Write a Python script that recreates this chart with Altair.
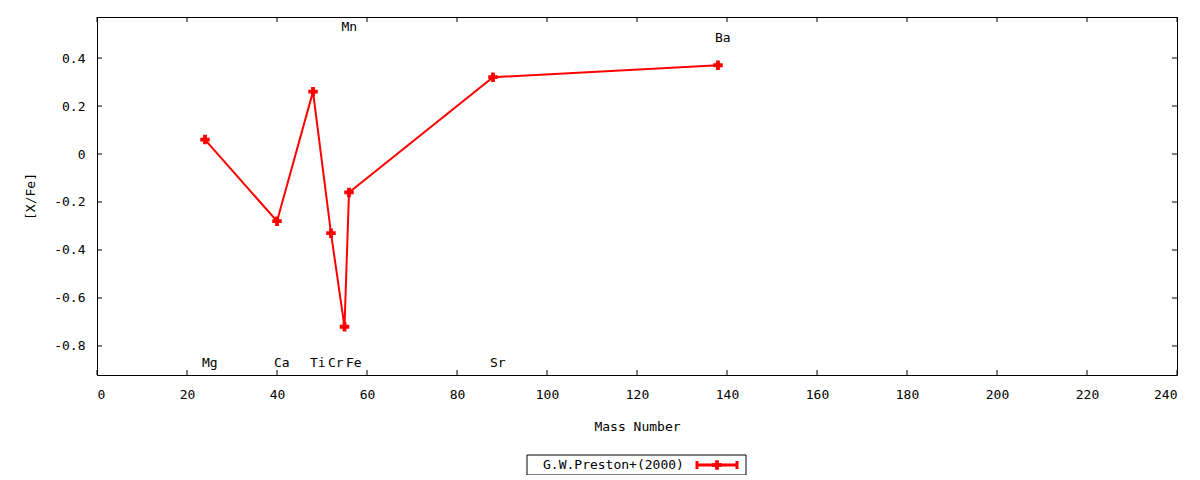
import altair as alt
import pandas as pd

elements = ["Mg", "Ca", "Ti", "Cr", "Mn", "Fe", "Sr", "Ba"]
mass = [24, 40, 48, 52, 55, 56, 88, 138]
xfe = [0.06, -0.28, 0.26, -0.33, -0.72, -0.16, 0.32, 0.37]
label_y = [-0.87, -0.87, -0.87, -0.87, 0.53, -0.87, -0.87, 0.485]
x_ticks = [0, 20, 40, 60, 80, 100, 120, 140, 160, 180, 200, 220, 240]
y_ticks = [-0.8, -0.6, -0.4, -0.2, 0, 0.2, 0.4]
legend_label = ["G.W.Preston+(2000)"]

FONT = "DejaVu Sans Mono"
W, H = 1080, 358
RED = "#ff0000"

df = pd.DataFrame({"el": elements, "mass": mass, "xfe": xfe, "ly": label_y})
xt = pd.DataFrame({"v": x_ticks})
yt = pd.DataFrame({"v": y_ticks})
leg = pd.DataFrame({"label": legend_label})

xscale = alt.Scale(domain=[0, 240], nice=False, zero=False)
yscale = alt.Scale(domain=[-0.921, 0.571], nice=False, zero=False)

xaxis = alt.Axis(values=x_ticks, grid=False, ticks=False, tickSize=0, domain=False,
                 labelPadding=13, title="Mass Number", titlePadding=19,
                 labelFont=FONT, titleFont=FONT, labelFontSize=13, titleFontSize=13,
                 titleFontWeight="normal", labelColor="black", titleColor="black")
yaxis = alt.Axis(values=y_ticks, grid=False, ticks=False, tickSize=0, domain=False,
                 labelPadding=12, title="[X/Fe]", titlePadding=16,
                 labelExpr="datum.value == 0 ? '0' : replace(format(datum.value, '.1f'), '\u2212', '-')",
                 labelFont=FONT, titleFont=FONT, labelFontSize=13, titleFontSize=13,
                 titleFontWeight="normal", labelColor="black", titleColor="black")

base = alt.Chart(df)

line = base.mark_line(color=RED, strokeWidth=2).encode(
    x=alt.X("mass:Q", scale=xscale, axis=xaxis),
    y=alt.Y("xfe:Q", scale=yscale, axis=yaxis),
    order="mass:Q",
)
pts = base.mark_point(shape="cross", filled=True, color=RED, size=90, opacity=1).encode(
    x=alt.X("mass:Q", scale=xscale),
    y=alt.Y("xfe:Q", scale=yscale),
)
labels = base.mark_text(font=FONT, fontSize=13, align="left", baseline="middle", dx=-3, color="black").encode(
    x=alt.X("mass:Q", scale=xscale),
    y=alt.Y("ly:Q", scale=yscale),
    text="el:N",
)

tick_b = alt.Chart(xt).mark_rule(color="black", strokeWidth=1).encode(
    x=alt.X("v:Q", scale=xscale), y=alt.value(H), y2=alt.value(H - 5))
tick_t = alt.Chart(xt).mark_rule(color="black", strokeWidth=1).encode(
    x=alt.X("v:Q", scale=xscale), y=alt.value(0), y2=alt.value(5))
tick_l = alt.Chart(yt).mark_rule(color="black", strokeWidth=1).encode(
    y=alt.Y("v:Q", scale=yscale), x=alt.value(0), x2=alt.value(5))
tick_r = alt.Chart(yt).mark_rule(color="black", strokeWidth=1).encode(
    y=alt.Y("v:Q", scale=yscale), x=alt.value(W), x2=alt.value(W - 5))

leg_box = alt.Chart(leg).mark_rect(fill="white", stroke="black", strokeWidth=1).encode(
    x=alt.value(430), x2=alt.value(649), y=alt.value(438), y2=alt.value(458))
leg_text = alt.Chart(leg).mark_text(font=FONT, fontSize=13, align="left", baseline="middle", color="black").encode(
    x=alt.value(446), y=alt.value(448), text="label:N")
leg_line = alt.Chart(leg).mark_rule(color=RED, strokeWidth=3).encode(
    x=alt.value(599), x2=alt.value(641), y=alt.value(448))
leg_cap1 = alt.Chart(leg).mark_rule(color=RED, strokeWidth=3).encode(
    x=alt.value(600), y=alt.value(444), y2=alt.value(452))
leg_cap2 = alt.Chart(leg).mark_rule(color=RED, strokeWidth=3).encode(
    x=alt.value(640), y=alt.value(444), y2=alt.value(452))
leg_pt = alt.Chart(leg).mark_point(shape="cross", filled=True, color=RED, size=90, opacity=1).encode(
    x=alt.value(620), y=alt.value(448))

chart = alt.layer(
    line, pts, labels, tick_b, tick_t, tick_l, tick_r,
    leg_box, leg_text, leg_line, leg_cap1, leg_cap2, leg_pt,
).properties(
    width=W, height=H,
    autosize=alt.AutoSizeParams(type="none"),
    padding={"left": 89, "top": 9, "right": 15, "bottom": 100},
    background="white",
).configure_view(stroke="black", strokeWidth=1)

chart.save("out.html", embed_options={"renderer": "svg", "actions": False})
